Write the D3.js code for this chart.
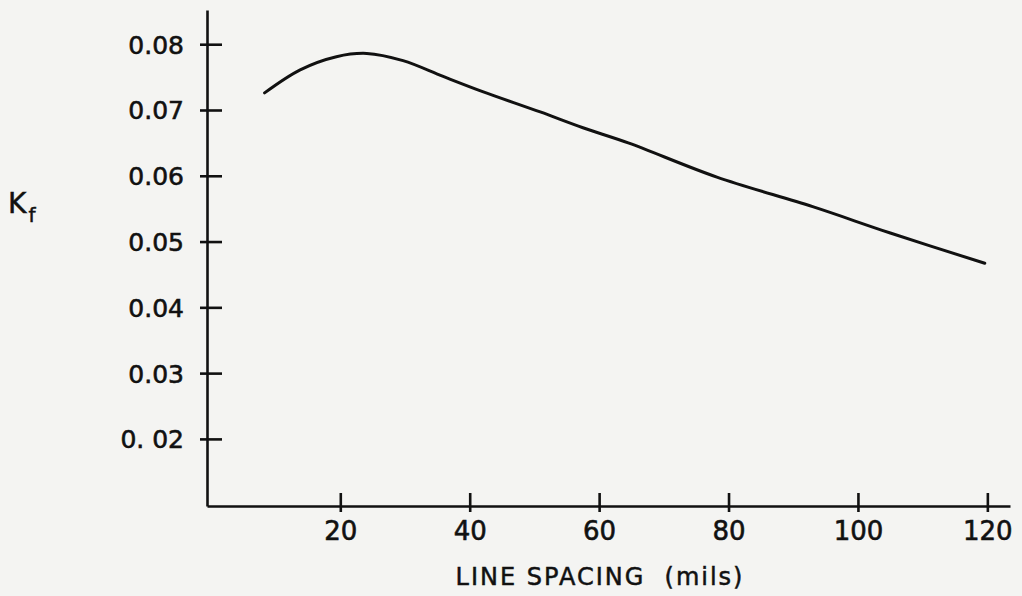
<!DOCTYPE html>
<html>
<head>
<meta charset="utf-8">
<script src="https://cdn.jsdelivr.net/npm/d3@7"></script>
<style>
  body { margin: 0; background: #f4f4f2; }
  #chart { width: 1022px; height: 596px; }
  .axisBlack path, .axisBlack line { stroke: #111; stroke-width: 2.6; }
  .axisBlack text { fill: #111; stroke: #111; stroke-width: 0.6; font-family: "DejaVu Sans", sans-serif; font-size: 25px; }
  .Axis-Label { fill: #111; stroke: #111; stroke-width: 0.5; font-family: "DejaVu Sans", sans-serif; white-space: pre; }
</style>
</head>
<body>
<div id="chart"></div>
<script>
// line spacing (mils)
const spacing = [8.3, 13.8, 19.4, 24.1, 29.7, 35.9, 42.0, 50.9, 57.5, 64.5, 78.2, 93.0, 105.0, 119.6];
// K_f values
const kf = [0.0726, 0.0761, 0.0781, 0.0786, 0.0775, 0.0751, 0.0728, 0.0697, 0.0673, 0.0650, 0.0598, 0.0553, 0.0513, 0.0467];

const xTicks = [20, 40, 60, 80, 100, 120];
const yTicks = [0.08, 0.07, 0.06, 0.05, 0.04, 0.03, 0.02];
const yTickLabels = ["0.08", "0.07", "0.06", "0.05", "0.04", "0.03", "0. 02"];

const width = 1022, height = 596;

const svg = d3.select("#chart").append("svg")
    .attr("width", width)
    .attr("height", height);

const x = d3.scaleLinear().domain([-0.6, 123.5]).range([207, 1010]);
const y = d3.scaleLinear().domain([0.0098, 0.0852]).range([506, 10]);

// x axis
svg.append("g")
    .attr("class", "axisBlack")
    .attr("transform", "translate(0," + y.range()[0] + ")")
    .call(d3.axisBottom(x).tickValues(xTicks).tickSizeOuter(0).tickFormat(d3.format("d")))
    .call(g => g.selectAll(".tick line").attr("y1", -13).attr("y2", 6))
    .call(g => g.selectAll(".tick text").attr("y", 34).attr("dy", 0).style("font-size", "26px"));

// y axis
svg.append("g")
    .attr("class", "axisBlack")
    .attr("transform", "translate(" + x.range()[0] + ",0)")
    .call(d3.axisLeft(y).tickValues(yTicks).tickSizeOuter(0)
        .tickFormat((d, i) => yTickLabels[i]))
    .call(g => g.selectAll(".tick line").attr("x1", -7).attr("x2", 15))
    .call(g => g.selectAll(".tick text").attr("x", -23).attr("dy", "0.36em"));

// axis titles
svg.append("text")
    .attr("class", "Axis-Label")
    .attr("x", 600)
    .attr("y", 585)
    .style("text-anchor", "middle")
    .style("font-size", "24px")
    .style("letter-spacing", "2px")
    .text("LINE SPACING  (mils)");

const kLabel = svg.append("text")
    .attr("class", "Axis-Label")
    .attr("x", 8)
    .attr("y", 213)
    .style("font-size", "28px");
kLabel.append("tspan").text("K");
kLabel.append("tspan").attr("dx", 2).attr("dy", 9).style("font-size", "20px").text("f");

// curve
const line = d3.line()
    .x((d, i) => x(spacing[i]))
    .y(d => y(d))
    .curve(d3.curveCatmullRom);

svg.append("path")
    .datum(kf)
    .attr("fill", "none")
    .attr("stroke", "#111")
    .attr("stroke-width", 3)
    .attr("stroke-linecap", "round")
    .attr("d", line);
</script>
</body>
</html>
